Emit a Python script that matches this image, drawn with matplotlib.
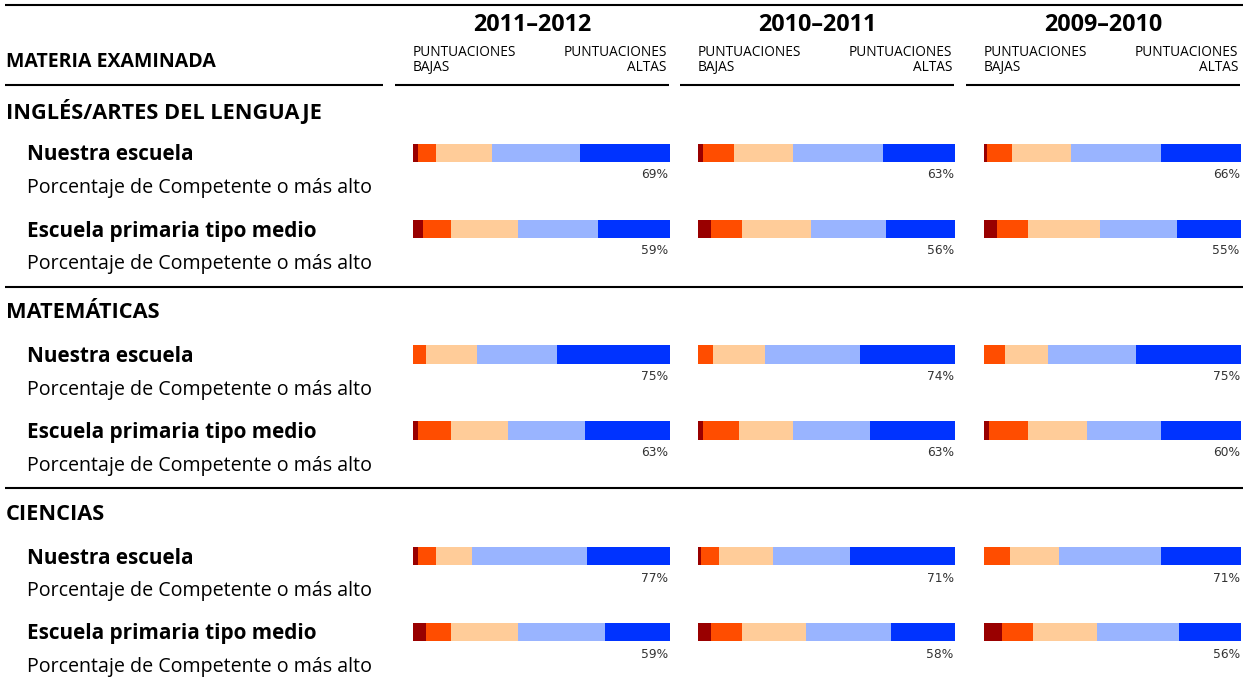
import matplotlib
matplotlib.use('Agg')
import matplotlib.pyplot as plt
import numpy as np

# ---------------- data ----------------
years = ['2011–2012', '2010–2011', '2009–2010']
subjects = ['INGLÉS/ARTES DEL LENGUAJE', 'MATEMÁTICAS', 'CIENCIAS']
schools = ['Nuestra escuela', 'Escuela primaria tipo medio']
sublabel = 'Porcentaje de Competente o más alto'
header_left = 'MATERIA EXAMINADA'
low_label = 'PUNTUACIONES\nBAJAS'
high_label = 'PUNTUACIONES\nALTAS'
level_colors = ['#990000', '#FF4D00', '#FFCC99', '#99B4FF', '#0033FF']

# rows: ELA nuestra, ELA tipo medio, MAT nuestra, MAT tipo medio, CIE nuestra, CIE tipo medio
# columns: 5 performance levels, low -> high (percent)
pct_2011_2012 = [[2, 7, 22, 34, 35], [4, 11, 26, 31, 28],
                 [0, 5, 20, 31, 44], [2, 13, 22, 30, 33],
                 [2, 7, 14, 45, 32], [5, 10, 26, 34, 25]]
pct_2010_2011 = [[2, 12, 23, 35, 28], [5, 12, 27, 29, 27],
                 [0, 6, 20, 37, 37], [2, 14, 21, 30, 33],
                 [1, 7, 21, 30, 41], [5, 12, 25, 33, 25]]
pct_2009_2010 = [[1, 10, 23, 35, 31], [5, 12, 28, 30, 25],
                 [0, 8, 17, 34, 41], [2, 15, 23, 29, 31],
                 [0, 10, 19, 40, 31], [7, 12, 25, 32, 24]]
year_data = [pct_2011_2012, pct_2010_2011, pct_2009_2010]

# ---------------- layout ----------------
W, H = 1248, 679
fig = plt.figure(figsize=(W / 100, H / 100), dpi=100)
renderer = fig.canvas.get_renderer()
bg = fig.add_axes([0, 0, 1, 1])
bg.set_xlim(0, W)
bg.set_ylim(H, 0)
bg.axis('off')

FONT = 'Open Sans'
LW = 1.5


def fit(t, target_px):
    w = t.get_window_extent(renderer).width
    t.set_fontsize(t.get_fontsize() * target_px / w)
    return t.get_fontsize()


col_bar_x0 = [412.7, 698.0, 984.0]
col_bar_w = 257.0
col_head_span = [(395, 669), (680, 954), (966, 1240)]

sec_top = 153.0
sec_gap = 201.5
row_gap = 76.0
bar_h = 18.7

# lines
bg.plot([5, 1243], [5, 5], color='black', lw=LW, solid_capstyle='butt')
bg.plot([5, 383], [85, 85], color='black', lw=LW, solid_capstyle='butt')
for a, b in col_head_span:
    bg.plot([a, b], [85, 85], color='black', lw=LW, solid_capstyle='butt')
for s in range(1, len(subjects)):
    yl = sec_top + s * sec_gap - 68
    bg.plot([5, 1243], [yl, yl], color='black', lw=LW, solid_capstyle='butt')

# header texts
t = bg.text(6, 62, header_left, family=FONT, fontweight='bold', ha='left', va='center', fontsize=10)
fit(t, 210)

year_fs = None
small_fs = None
for i, yr in enumerate(years):
    a, b = col_head_span[i]
    t = bg.text((a + b) / 2, 25, yr, family=FONT, fontweight='bold', ha='center', va='center', fontsize=14)
    if year_fs is None:
        year_fs = fit(t, 119)
    else:
        t.set_fontsize(year_fs)
    x0 = col_bar_x0[i]
    t1 = bg.text(x0, 60, low_label, family=FONT, ha='left', va='center', fontsize=7,
                 linespacing=1.0)
    t2 = bg.text(x0 + col_bar_w - 3, 60, high_label, family=FONT, ha='right', va='center',
                 fontsize=7, multialignment='right', linespacing=1.0)
    if small_fs is None:
        tmp = bg.text(0, -100, 'PUNTUACIONES', family=FONT, fontsize=7)
        small_fs = fit(tmp, 104)
        tmp.remove()
    t1.set_fontsize(small_fs)
    t2.set_fontsize(small_fs)

# left labels
sec_fs = None
school_fs = None
sub_fs = None
for s, subj in enumerate(subjects):
    yc = sec_top + s * sec_gap
    t = bg.text(6, yc - 42, subj, family=FONT, fontweight='bold', ha='left', va='center', fontsize=12)
    if sec_fs is None:
        sec_fs = fit(t, 314)
    else:
        t.set_fontsize(sec_fs)
    for r, sch in enumerate(schools):
        yr_ = yc + r * row_gap
        t = bg.text(27, yr_ + 2, sch, family=FONT, fontweight='bold', ha='left', va='center', fontsize=12)
        if school_fs is None:
            school_fs = fit(t, 167)
        else:
            t.set_fontsize(school_fs)
        t = bg.text(27, yr_ + 35, sublabel, family=FONT, ha='left', va='center', fontsize=12)
        if sub_fs is None:
            sub_fs = fit(t, 342)
        else:
            t.set_fontsize(sub_fs)

# bars
pct_fs = None
for i, data in enumerate(year_data):
    arr = np.array(data, dtype=float)
    ax = fig.add_axes([col_bar_x0[i] / W, 0, col_bar_w / W, 1])
    ax.set_xlim(0, 100)
    ax.set_ylim(H, 0)
    ax.axis('off')
    centers = np.array([sec_top + s * sec_gap + r * row_gap
                        for s in range(len(subjects)) for r in range(len(schools))])
    left = np.zeros(len(arr))
    for k in range(arr.shape[1]):
        ax.barh(centers, arr[:, k], left=left, height=bar_h, color=level_colors[k], linewidth=0)
        left += arr[:, k]
    for j, c in enumerate(centers):
        val = int(arr[j, 3] + arr[j, 4])
        t = ax.text(99.5, c + 22, f'{val}%', family='DejaVu Sans', color='#333333',
                    ha='right', va='center', fontsize=8.5)
        if pct_fs is None:
            pct_fs = fit(t, 27)
        else:
            t.set_fontsize(pct_fs)

fig.savefig('out.png', dpi=100, facecolor='white')
